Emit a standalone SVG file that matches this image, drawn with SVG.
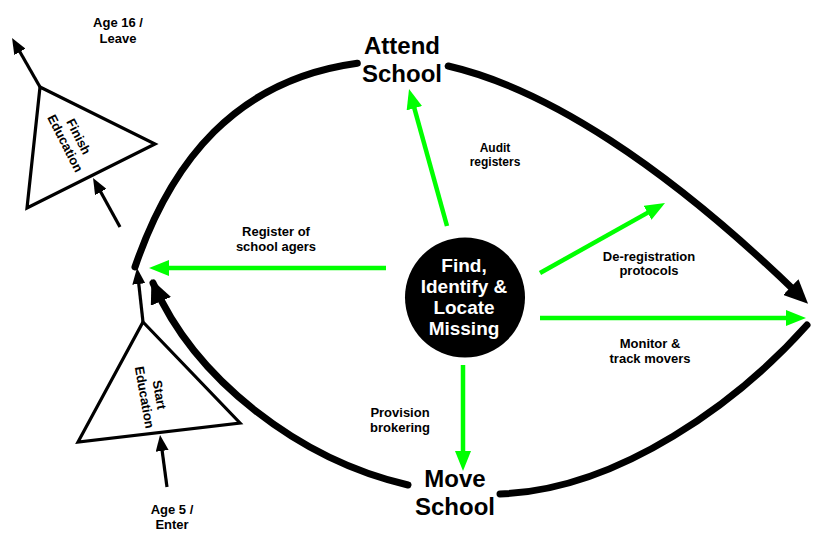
<svg xmlns="http://www.w3.org/2000/svg" width="813" height="533" viewBox="0 0 813 533">
<style>
text{font-family:"Liberation Sans",Arial,sans-serif;font-weight:bold;fill:#000;text-anchor:middle}
.big{font-size:24px}
.lbl{font-size:13px}
.hub{font-size:19px;fill:#fff}
.loop{fill:none;stroke:#000;stroke-width:7;stroke-linecap:round}
.green{fill:none;stroke:#00ff00;stroke-width:4.5}
.thin{fill:none;stroke:#000;stroke-width:3.2}
.tri{fill:#fff;stroke:#000;stroke-width:3.2;stroke-linejoin:miter}
</style>
<defs>
<marker id="mBig" viewBox="0 0 24 22" markerWidth="24" markerHeight="22" markerUnits="userSpaceOnUse" refX="10" refY="11" orient="auto"><path d="M0,0 L24,11 L0,22 z" fill="#000"/></marker>
<marker id="mBig2" viewBox="0 0 24 22" markerWidth="24" markerHeight="22" markerUnits="userSpaceOnUse" refX="20" refY="11" orient="auto"><path d="M0,0 L24,11 L0,22 z" fill="#000"/></marker>
<marker id="mGreen" viewBox="0 0 20 16" markerWidth="20" markerHeight="16" markerUnits="userSpaceOnUse" refX="10" refY="8" orient="auto"><path d="M0,0 L20,8 L0,16 z" fill="#00ff00"/></marker>
<marker id="mThin" viewBox="0 0 16 13" markerWidth="16" markerHeight="13" markerUnits="userSpaceOnUse" refX="8" refY="6.5" orient="auto"><path d="M0,0 L16,6.5 L0,13 z" fill="#000"/></marker>
</defs>

<g id="connectors">
<path class="loop" d="M135,267 C171,161.7 235.4,79.9 357.3,63.2"/>
<path class="loop" d="M448.2,66 C545.2,88.4 665,165 798,294" marker-end="url(#mBig)"/>
<path class="loop" d="M807,325 C740,400 620,490 500,494"/>
<path class="loop" d="M408,485 C300,460 195,380 153,283" marker-end="url(#mBig2)"/>

<path class="green" d="M447,226 L411.7,98.6" marker-end="url(#mGreen)"/>
<path class="green" d="M386,268 L159,268" marker-end="url(#mGreen)"/>
<path class="green" d="M540,273 L656.3,207.9" marker-end="url(#mGreen)"/>
<path class="green" d="M540,318 L796,318" marker-end="url(#mGreen)"/>
<path class="green" d="M463,365 L463,461" marker-end="url(#mGreen)"/>

<path class="thin" d="M40,87 L16,45" marker-end="url(#mThin)"/>
<path class="thin" d="M120,227 L96.9,185" marker-end="url(#mThin)"/>
<path class="thin" d="M143,322 L137.9,276" marker-end="url(#mThin)"/>
<path class="thin" d="M167,487 L161.1,443" marker-end="url(#mThin)"/>
</g>

<g id="finish">
<polygon class="tri" points="40,87 155,144 27,208"/>
<text class="lbl" transform="translate(72,140) rotate(63)"><tspan x="0" y="-3">Finish</tspan><tspan x="0" y="12">Education</tspan></text>
</g>

<g id="start">
<polygon class="tri" points="143,322 240,423 78,442"/>
<text class="lbl" transform="translate(152,396) rotate(80)"><tspan x="0" y="-3">Start</tspan><tspan x="0" y="12">Education</tspan></text>
</g>

<g id="age16"><text class="lbl"><tspan x="118" y="27">Age 16 /</tspan><tspan x="118" y="43">Leave</tspan></text></g>
<g id="age5"><text class="lbl"><tspan x="172" y="514">Age 5 /</tspan><tspan x="172" y="529">Enter</tspan></text></g>

<g id="attend"><text class="big"><tspan x="402" y="54">Attend</tspan><tspan x="402" y="82">School</tspan></text></g>
<g id="move"><text class="big"><tspan x="455" y="487">Move</tspan><tspan x="455" y="515">School</tspan></text></g>

<g id="hub">
<circle cx="465" cy="297.5" r="60" fill="#000"/>
<text class="hub"><tspan x="464" y="272">Find,</tspan><tspan x="464" y="293">Identify &amp;</tspan><tspan x="464" y="314">Locate</tspan><tspan x="464" y="335">Missing</tspan></text>
</g>

<g id="labels">
<text style="font-size:12px"><tspan x="495" y="152">Audit</tspan><tspan x="495" y="166">registers</tspan></text>
<text class="lbl"><tspan x="276" y="236">Register of</tspan><tspan x="276" y="251">school agers</tspan></text>
<text class="lbl"><tspan x="649" y="261">De-registration</tspan><tspan x="649" y="275">protocols</tspan></text>
<text class="lbl"><tspan x="650" y="348">Monitor &amp;</tspan><tspan x="650" y="363">track movers</tspan></text>
<text class="lbl"><tspan x="400" y="417">Provision</tspan><tspan x="400" y="432">brokering</tspan></text>
</g>
</svg>
